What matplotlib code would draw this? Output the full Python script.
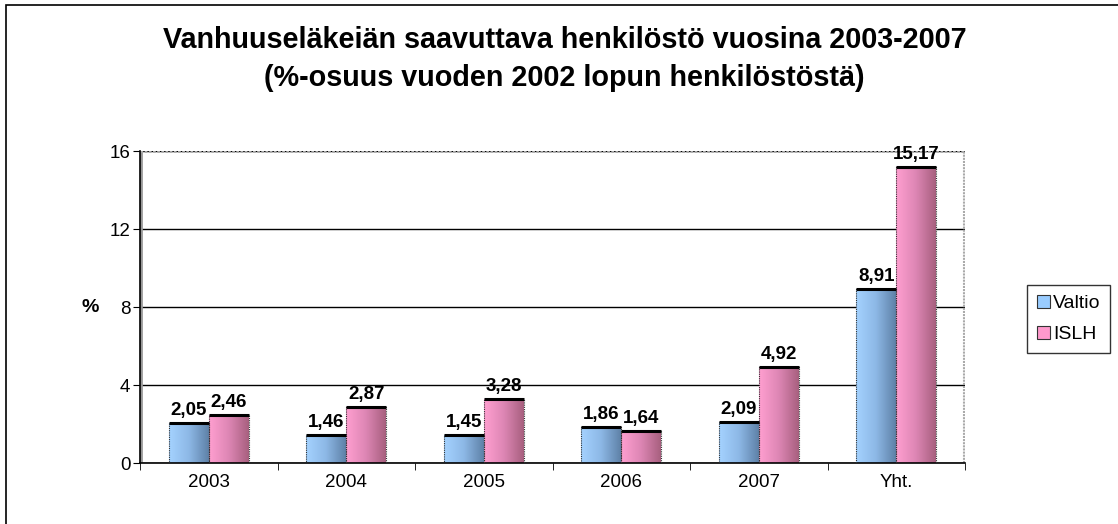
import matplotlib.pyplot as plt
import numpy as np
from matplotlib.colors import LinearSegmentedColormap
from matplotlib.patches import Rectangle

plt.rcParams['font.family'] = ['Liberation Sans', 'DejaVu Sans']

categories = ['2003', '2004', '2005', '2006', '2007', 'Yht.']
valtio = [2.05, 1.46, 1.45, 1.86, 2.09, 8.91]
islh = [2.46, 2.87, 3.28, 1.64, 4.92, 15.17]
series_names = ['Valtio', 'ISLH']

blue_map = LinearSegmentedColormap.from_list('b', ['#a4d2ff', '#8db8e6', '#5f82a8'])
pink_map = LinearSegmentedColormap.from_list('p', ['#ff9fd0', '#dd86b4', '#a8607f'])


def fmt(v):
    return f'{v:.2f}'.replace('.', ',')


def gradient_bar(ax, x0, w, h, cmap):
    rect = Rectangle((x0, 0), w, h, facecolor='none', edgecolor='#333333',
                     linewidth=0.8, linestyle=(0, (1, 1)), zorder=3)
    ax.add_patch(rect)
    grad = np.linspace(0, 1, 64).reshape(1, -1)
    im = ax.imshow(grad, extent=[x0, x0 + w, 0, h], aspect='auto', cmap=cmap,
                   zorder=2, interpolation='bicubic')
    im.set_clip_path(rect)
    # dark top rim of the 3D bar
    ax.plot([x0, x0 + w], [h, h], color='black', linewidth=2.2, zorder=4,
            solid_capstyle='butt')


fig = plt.figure(figsize=(11.18, 5.24), dpi=100)
ax = fig.add_axes([140 / 1118, 61 / 524, 825 / 1118, 312 / 524])

x = np.arange(len(categories))
w = 0.29
for i in range(len(categories)):
    gradient_bar(ax, x[i] - w, w, valtio[i], blue_map)
    gradient_bar(ax, x[i], w, islh[i], pink_map)
    ax.text(x[i] - w / 2, valtio[i] + 0.2, fmt(valtio[i]), ha='center', va='bottom',
            fontsize=13.5, fontweight='bold')
    ax.text(x[i] + w / 2, islh[i] + 0.2, fmt(islh[i]), ha='center', va='bottom',
            fontsize=13.5, fontweight='bold')

ax.set_xlim(-0.5, len(categories) - 0.5)
ax.set_ylim(0, 16)
ax.set_yticks([0, 4, 8, 12, 16])
ax.tick_params(axis='y', labelsize=13.5, length=5, direction='out', pad=2)
ax.set_xticks(x)
ax.set_xticklabels(categories)
ax.set_xticks(np.arange(-0.5, len(categories), 1), minor=True)
ax.tick_params(axis='x', which='major', length=0, labelsize=13.5, pad=8)
ax.tick_params(axis='x', which='minor', length=5, direction='out')
ax.yaxis.grid(True, color='black', linewidth=1)
ax.set_axisbelow(True)
for side in ['top', 'right']:
    ax.spines[side].set_visible(False)
ax.spines['left'].set_linewidth(1.2)
ax.spines['bottom'].set_linewidth(1.2)
# grey 3D wall outline
ax.plot([-0.5 + 0.01, -0.5 + 0.01], [0, 16], color='#999999', linewidth=2, zorder=1)
ax.plot([-0.5, 5.5], [16, 16], color='#aaaaaa', linewidth=2, zorder=1, linestyle=(0, (1, 0.5)))
ax.plot([5.49, 5.49], [0, 16], color='#aaaaaa', linewidth=1.5, zorder=1, linestyle=(0, (1, 0.5)))

ax.set_ylabel('%', fontsize=14, fontweight='bold', rotation=0, labelpad=14, va='center')

handles = [Rectangle((0, 0), 1, 1, facecolor='#99ccff', edgecolor='#333333', linewidth=0.8),
           Rectangle((0, 0), 1, 1, facecolor='#ff99cc', edgecolor='#333333', linewidth=0.8)]
leg = fig.legend(handles, series_names, loc='center left', bbox_to_anchor=(1027 / 1118, 1 - 319 / 524),
                 fontsize=14, frameon=True, fancybox=False, edgecolor='black',
                 handlelength=0.7, handleheight=0.7, handletextpad=0.15,
                 borderpad=0.5, labelspacing=0.7, borderaxespad=0)
leg.get_frame().set_linewidth(1)

fig.text(0.505, 1 - 40 / 524, 'Vanhuuseläkeiän saavuttava henkilöstö vuosina 2003-2007',
         ha='center', va='center', fontsize=20.7, fontweight='bold')
fig.text(0.505, 1 - 78 / 524, '(%-osuus vuoden 2002 lopun henkilöstöstä)',
         ha='center', va='center', fontsize=20.7, fontweight='bold')

fig.patches.append(Rectangle((6 / 1118, -0.1), 1.2, 1.1 - 5 / 524, transform=fig.transFigure,
                             facecolor='none', edgecolor='black', linewidth=1.2))

fig.savefig('out.png', dpi=100)
